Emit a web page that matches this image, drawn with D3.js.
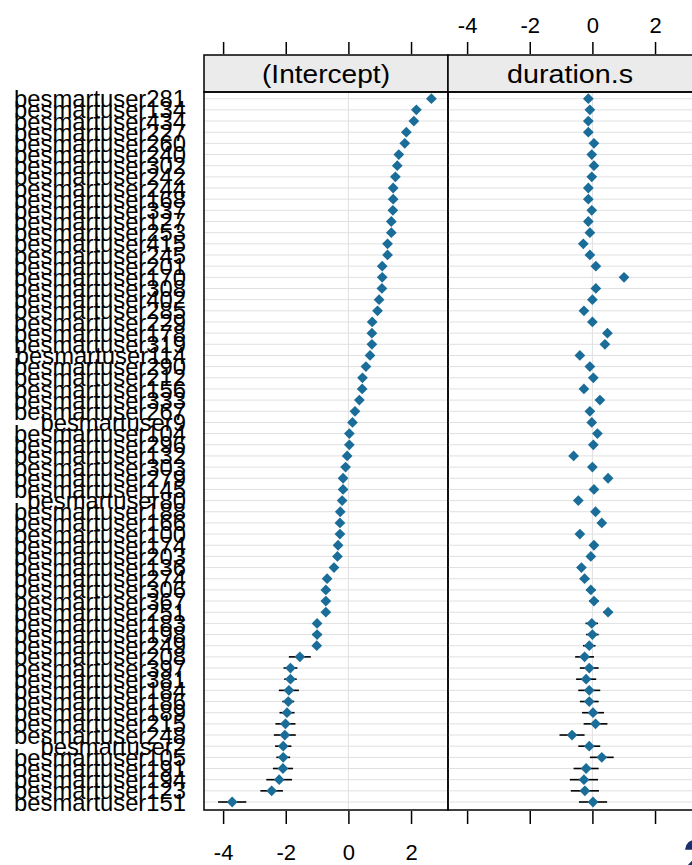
<!DOCTYPE html>
<html>
<head>
<meta charset="utf-8">
<script src="https://cdn.jsdelivr.net/npm/d3@7"></script>
<style>
  html, body { margin: 0; padding: 0; background: #ffffff; }
  svg { display: block; }
  text { font-family: "Liberation Sans", Arial, sans-serif; fill: #000; }
</style>
</head>
<body>
<svg id="chart" width="692" height="865"></svg>
<script>
// Random effects per user: conditional modes with interval half-widths
const users = [
  "besmartuser281","besmartuser134","besmartuser434","besmartuser227","besmartuser260",
  "besmartuser240","besmartuser302","besmartuser242","besmartuser244","besmartuser168",
  "besmartuser337","besmartuser127","besmartuser253","besmartuser415","besmartuser245",
  "besmartuser201","besmartuser170","besmartuser308","besmartuser402","besmartuser285",
  "besmartuser229","besmartuser178","besmartuser319","besmartuser114","besmartuser290",
  "besmartuser212","besmartuser156","besmartuser333","besmartuser267","besmartuser9",
  "besmartuser104","besmartuser296","besmartuser132","besmartuser303","besmartuser279",
  "besmartuser145","besmartuser80","besmartuser188","besmartuser166","besmartuser100",
  "besmartuser174","besmartuser203","besmartuser136","besmartuser274","besmartuser306",
  "besmartuser367","besmartuser251","besmartuser183","besmartuser198","besmartuser249",
  "besmartuser208","besmartuser397","besmartuser381","besmartuser184","besmartuser186",
  "besmartuser189","besmartuser215","besmartuser248","besmartuser2","besmartuser105",
  "besmartuser191","besmartuser194","besmartuser123","besmartuser151"
];

const intercept = [
  2.65, 2.17, 2.09, 1.85, 1.80, 1.61, 1.56, 1.50, 1.43, 1.43,
  1.42, 1.37, 1.37, 1.25, 1.25, 1.08, 1.08, 1.07, 0.98, 0.93,
  0.76, 0.75, 0.75, 0.69, 0.56, 0.45, 0.44, 0.35, 0.21, 0.13,
  0.03, 0.03, -0.04, -0.09, -0.17, -0.17, -0.20, -0.26, -0.27, -0.27,
  -0.33, -0.35, -0.46, -0.68, -0.72, -0.72, -0.72, -1.00, -1.00, -1.01,
  -1.55, -1.85, -1.85, -1.90, -1.92, -1.96, -2.01, -2.03, -2.08, -2.08,
  -2.09, -2.21, -2.45, -3.71
];

const interceptErr = [
  0.06, 0.06, 0.06, 0.06, 0.06, 0.06, 0.06, 0.06, 0.06, 0.06,
  0.06, 0.06, 0.06, 0.06, 0.06, 0.06, 0.06, 0.06, 0.06, 0.06,
  0.06, 0.06, 0.06, 0.06, 0.06, 0.06, 0.06, 0.06, 0.06, 0.06,
  0.06, 0.06, 0.06, 0.06, 0.06, 0.06, 0.06, 0.06, 0.06, 0.06,
  0.08, 0.08, 0.12, 0.10, 0.10, 0.10, 0.10, 0.12, 0.15, 0.13,
  0.35, 0.22, 0.20, 0.32, 0.19, 0.24, 0.32, 0.35, 0.26, 0.22,
  0.32, 0.41, 0.36, 0.45
];

const duration = [
  -0.13, -0.08, -0.13, -0.13, 0.05, -0.02, 0.05, -0.02, -0.13, -0.13,
  -0.02, -0.13, -0.08, -0.29, -0.08, 0.11, 1.01, 0.11, 0.00, -0.27,
  0.00, 0.48, 0.40, -0.40, -0.08, 0.03, -0.27, 0.24, -0.08, -0.02,
  0.16, 0.03, -0.60, 0.00, 0.50, 0.05, -0.45, 0.10, 0.30, -0.40,
  0.05, -0.05, -0.35, -0.25, -0.05, 0.05, 0.50, -0.02, 0.00, -0.10,
  -0.25, -0.10, -0.20, -0.10, -0.10, 0.02, 0.10, -0.65, -0.10, 0.30,
  -0.20, -0.27, -0.24, 0.02
];

const durationErr = [
  0.08, 0.08, 0.08, 0.08, 0.08, 0.08, 0.08, 0.08, 0.08, 0.08,
  0.08, 0.08, 0.08, 0.08, 0.08, 0.08, 0.08, 0.08, 0.08, 0.08,
  0.08, 0.08, 0.08, 0.08, 0.08, 0.08, 0.08, 0.08, 0.08, 0.08,
  0.08, 0.08, 0.08, 0.08, 0.08, 0.08, 0.08, 0.08, 0.08, 0.08,
  0.10, 0.10, 0.12, 0.15, 0.15, 0.15, 0.15, 0.20, 0.20, 0.20,
  0.30, 0.30, 0.32, 0.35, 0.30, 0.35, 0.38, 0.40, 0.35, 0.38,
  0.40, 0.45, 0.45, 0.45
];

const panelTitles = ["(Intercept)", "duration.s"];
const xTicks = [-4, -2, 0, 2];
const xLimits = [-4.61, 3.18];

// ---- layout ----
const panelW = 244, panelLeft = 204;
const stripTop = 55, stripBottom = 92, panelBottom = 810;
const rowPad = 6.7;

const svg = d3.select("#chart");

const y = d3.scalePoint()
  .domain(users)
  .range([stripBottom + rowPad, panelBottom - 8]);

const panels = [
  { title: panelTitles[0], values: intercept, err: interceptErr, x0: panelLeft },
  { title: panelTitles[1], values: duration, err: durationErr, x0: panelLeft + panelW }
];
panels.forEach(p => {
  p.x = d3.scaleLinear().domain(xLimits).range([p.x0, p.x0 + panelW]);
});

const dotColor = "#1b6d99";
const gridColor = "#e0e0e0";
const diamond = d3.symbol().type(d3.symbolSquare).size(58);
const tickText = d => String(d);   // plain hyphen-minus, as in the R output

panels.forEach((p, pi) => {
  const g = svg.append("g");
  // the second panel's right edge sits just past the page edge
  const w = pi === 1 ? panelW + 1.5 : panelW;

  // horizontal reference line for each user
  g.selectAll("line.row").data(users).enter().append("line")
    .attr("x1", p.x0).attr("x2", p.x0 + w)
    .attr("y1", d => y(d)).attr("y2", d => y(d))
    .attr("stroke", gridColor).attr("stroke-width", 1);

  // vertical line at zero
  g.append("line")
    .attr("x1", p.x(0)).attr("x2", p.x(0))
    .attr("y1", stripBottom).attr("y2", panelBottom)
    .attr("stroke", gridColor).attr("stroke-width", 1);

  // interval segments
  g.selectAll("line.err").data(users).enter().append("line")
    .attr("x1", (d, i) => p.x(p.values[i] - p.err[i]))
    .attr("x2", (d, i) => p.x(p.values[i] + p.err[i]))
    .attr("y1", d => y(d)).attr("y2", d => y(d))
    .attr("stroke", "#000").attr("stroke-width", 1.6);

  // point estimates
  g.selectAll("path.pt").data(users).enter().append("path")
    .attr("d", diamond)
    .attr("transform", (d, i) => `translate(${p.x(p.values[i])},${y(d)}) rotate(45)`)
    .attr("fill", dotColor);

  // strip
  g.append("rect")
    .attr("x", p.x0).attr("y", stripTop)
    .attr("width", w).attr("height", stripBottom - stripTop)
    .attr("fill", "#ebebeb").attr("stroke", "#000").attr("stroke-width", 1.5);
  g.append("text")
    .attr("x", p.x0 + panelW / 2).attr("y", (stripTop + stripBottom) / 2)
    .attr("dy", "0.36em")
    .attr("text-anchor", "middle")
    .attr("font-size", 25)
    .attr("textLength", pi === 0 ? 128 : 126)
    .attr("lengthAdjust", "spacingAndGlyphs")
    .text(p.title);

  // panel frame
  g.append("rect")
    .attr("x", p.x0).attr("y", stripBottom)
    .attr("width", w).attr("height", panelBottom - stripBottom)
    .attr("fill", "none").attr("stroke", "#000").attr("stroke-width", 1.5);

  // top axis (labels on the second panel only)
  const top = d3.axisTop(p.x).tickValues(xTicks).tickSize(12).tickPadding(9)
    .tickFormat(pi === 1 ? tickText : () => "");
  const gt = svg.append("g").attr("transform", `translate(0,${stripTop - 1})`).call(top);
  // bottom axis (labels on the first panel only)
  const bottom = d3.axisBottom(p.x).tickValues(xTicks).tickSize(13).tickPadding(20)
    .tickFormat(pi === 0 ? tickText : () => "");
  const gb = svg.append("g").attr("transform", `translate(0,${panelBottom + 1})`).call(bottom);

  [gt, gb].forEach(ax => {
    ax.select(".domain").remove();
    ax.selectAll(".tick line").attr("stroke", "#000").attr("stroke-width", 1.5);
    ax.selectAll(".tick text")
      .attr("font-size", 22)
      .attr("font-family", "'Liberation Sans', Arial, sans-serif")
      .attr("fill", "#000");
  });
});

// user labels on the left
svg.append("g").selectAll("text").data(users.slice().reverse()).enter().append("text")
  .attr("x", 186)
  .attr("y", d => y(d))
  .attr("dy", "0.36em")
  .attr("text-anchor", "end")
  .attr("font-size", 23.8)
  .text(d => d);

// slide page number
svg.append("text")
  .attr("x", 683).attr("y", 875)
  .attr("font-size", 50)
  .attr("font-weight", "bold")
  .style("fill", "#1c2e6c")
  .text("2");
</script>
</body>
</html>
